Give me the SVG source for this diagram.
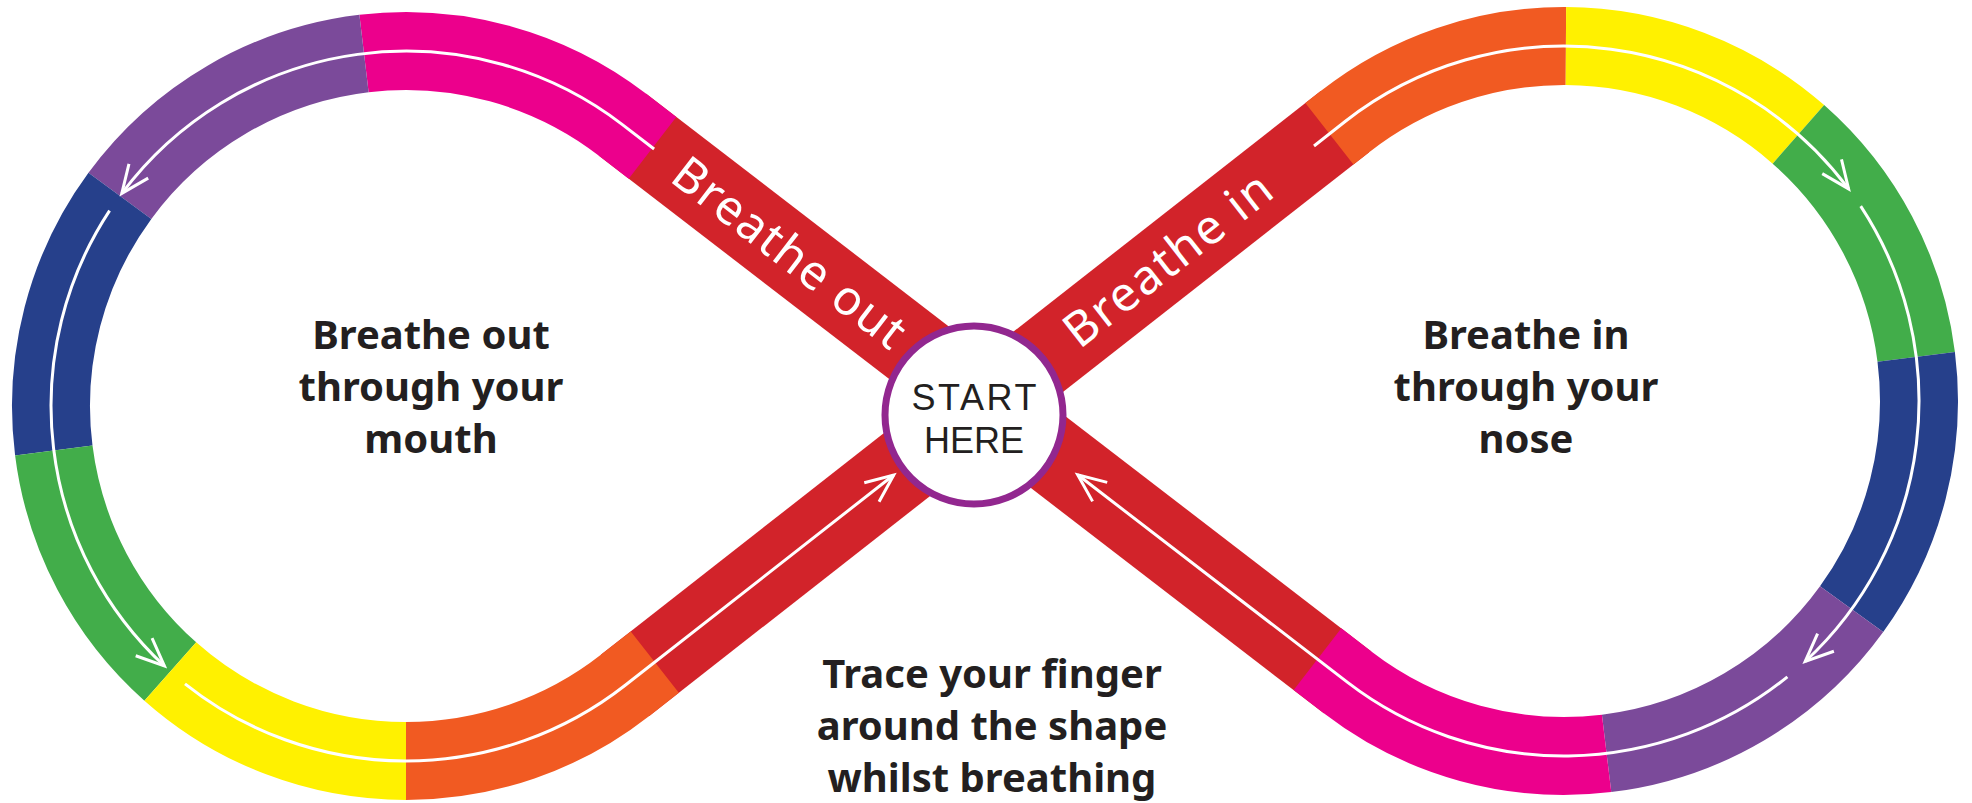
<svg xmlns="http://www.w3.org/2000/svg" width="1972" height="803" viewBox="0 0 1972 803">
<defs>
<style>
.seg{fill:none;stroke-width:78;stroke-linecap:butt;stroke-linejoin:miter}
.red{stroke:#d2232a}.pink{stroke:#ec008c}.purple{stroke:#7b4a9a}.blue{stroke:#26408b}
.green{stroke:#42ad4a}.yellow{stroke:#fff100}.orange{stroke:#f15a22}
.arw{fill:none;stroke:#fff;stroke-width:3;marker-end:url(#ah)}
.lbl{font-family:"Noto Sans","DejaVu Sans",sans-serif;font-weight:700;font-size:40px;fill:#231f20;text-anchor:middle}
.band{font-family:"Noto Sans","DejaVu Sans",sans-serif;font-size:48px;fill:#fff;text-anchor:middle}
.start{font-family:"Liberation Sans",Arial,sans-serif;font-size:36px;fill:#231f20;text-anchor:middle}
</style>
<marker id="ah" markerUnits="userSpaceOnUse" markerWidth="40" markerHeight="40" viewBox="-35 -20 40 40" refX="0" refY="0" orient="auto" overflow="visible">
<path d="M-28,-12 L0,0 L-28,12" fill="none" stroke="#fff" stroke-width="3"/>
</marker>
</defs>
<rect width="1972" height="803" fill="#fff"/>
<g id="track">
<path class="seg red" d="M622.4,124.6 L1347.6,682.4"/>
<path class="seg red" d="M624.9,685.5 L1345.1,121.5"/>
<path class="seg pink" d="M652.5,147.8 L622.4,124.6 A355,355 0 0 0 364,53.5"/>
<path class="seg purple" d="M364,53.5 A355,355 0 0 0 119.9,195.8"/>
<path class="seg blue" d="M119.9,195.8 A355,355 0 0 0 53.8,450.5"/>
<path class="seg green" d="M53.8,450.5 A355,355 0 0 0 170.3,671.5"/>
<path class="seg yellow" d="M170.3,671.5 A355,355 0 0 0 406,761"/>
<path class="seg orange" d="M406,761 A355,355 0 0 0 624.9,685.5 L654.8,662.1"/>
<path class="seg orange" d="M1329.4,133.8 L1345.1,121.5 A355,355 0 0 1 1565.9,46"/>
<path class="seg yellow" d="M1565.9,46 A355,355 0 0 1 1798.4,134.4"/>
<path class="seg green" d="M1798.4,134.4 A355,355 0 0 1 1916.2,356.8"/>
<path class="seg blue" d="M1916.2,356.8 A355,355 0 0 1 1851.6,609.2"/>
<path class="seg purple" d="M1851.6,609.2 A355,355 0 0 1 1606.6,753.4"/>
<path class="seg pink" d="M1606.6,753.4 A355,355 0 0 1 1347.6,682.4 L1317.5,659.2"/>
</g>
<g id="connectors">
<path class="arw" d="M1314,146 L1345.1,121.5 A355,355 0 0 1 1848.6,188.9"/>
<path class="arw" d="M1860.7,206.1 A355,355 0 0 1 1805.2,661.5"/>
<path class="arw" d="M1787.4,676.9 A355,355 0 0 1 1347.6,682.4 L1077.7,474.8"/>
<path class="arw" d="M654.1,149 L622.4,124.6 A355,355 0 0 0 121.8,193.4"/>
<path class="arw" d="M109.6,210.6 A355,355 0 0 0 164.4,666"/>
<path class="arw" d="M185,683.8 A355,355 0 0 0 624.9,685.5 L893.7,475"/>
</g>
<g id="band-out" transform="translate(789,253) rotate(37.57)">
<text class="band" x="0" y="16" textLength="280" lengthAdjust="spacing">Breathe out</text>
</g>
<g id="band-in" transform="translate(1168,260) rotate(-38.07)">
<text class="band" x="0" y="16" textLength="250" lengthAdjust="spacing">Breathe in</text>
</g>
<g id="start-here">
<circle cx="974" cy="415" r="89" fill="#fff" stroke="#92278f" stroke-width="7"/>
<text class="start" x="974" y="410" textLength="125" lengthAdjust="spacing">START</text>
<text class="start" x="974" y="453" textLength="100" lengthAdjust="spacing">HERE</text>
</g>
<g id="label-out">
<text class="lbl" x="431" y="349">Breathe out</text>
<text class="lbl" x="431" y="401">through your</text>
<text class="lbl" x="431" y="453">mouth</text>
</g>
<g id="label-in">
<text class="lbl" x="1526" y="349">Breathe in</text>
<text class="lbl" x="1526" y="401">through your</text>
<text class="lbl" x="1526" y="453">nose</text>
</g>
<g id="label-trace">
<text class="lbl" x="992" y="688">Trace your finger</text>
<text class="lbl" x="992" y="740">around the shape</text>
<text class="lbl" x="992" y="792">whilst breathing</text>
</g>
</svg>
